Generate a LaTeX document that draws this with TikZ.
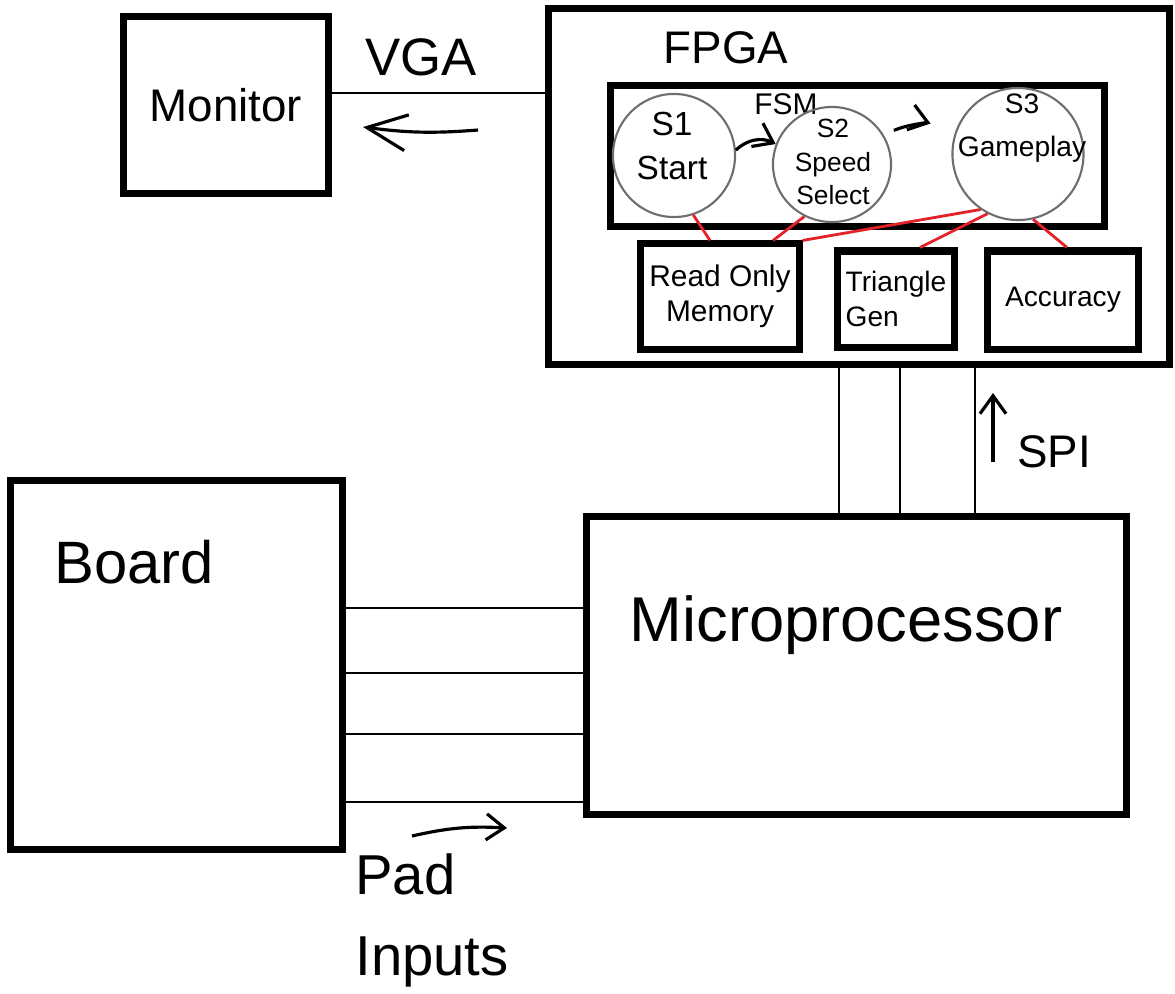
\documentclass[tikz,border=0pt]{standalone}
\usepackage{fontspec}
\setmainfont{Liberation Sans}
\usepackage{tikz}
\usetikzlibrary{arrows.meta,positioning,shapes.geometric}
\definecolor{clink}{HTML}{E32228}
\definecolor{cring}{HTML}{6E6E6E}
\tikzset{
  blk/.style={draw, rectangle, line width=2pt, inner sep=0pt, align=center},
  state/.style={draw=cring, ellipse, line width=0.6pt, inner sep=0pt},
  wire/.style={line width=0.6pt},
  link/.style={draw=clink, line width=0.8pt},
  hand/.style={-{Straight Barb[length=1.8mm,width=2.6mm]}, line width=0.9pt},
  handbig/.style={-{Straight Barb[length=4mm,width=3.6mm]}, line width=0.9pt},
  title/.style={font=\fontsize{13}{16}\selectfont},
  big/.style={font=\fontsize{17}{21}\selectfont},
  lbl/.style={font=\fontsize{8.5}{10}\selectfont, align=center},
}

\begin{document}
\begin{tikzpicture}[x=0.01cm,y=-0.01cm]
\useasboundingbox (0,0) rectangle (1175,993);
% monitor and fpga
\node[blk, title, minimum width=2.04cm, minimum height=1.76cm] (mon) at (226,105) {Monitor};
\node[blk, minimum width=6.20cm, minimum height=3.55cm] (fpga) at (859,186.5) {};
\node[title] (fpgalbl) at (726,48) {FPGA};
\node[title, font=\fontsize{15}{18}\selectfont] (vga) at (421,57) {VGA};
\draw[wire] ([yshift=1.2mm]mon.east) -- ([yshift=1.2mm]mon.east -| fpga.west);
\coordinate (vgaR) at (478,130); \coordinate (vgaL) at (363,127);
\draw[handbig] (vgaR) to[bend left=6] (vgaL);
% state machine
\node[blk, minimum width=4.93cm, minimum height=1.40cm] (fsm) at (857.5,156) {};
\node[lbl] (fsmlbl) at (786,104) {FSM};
\node[state, minimum width=1.22cm, minimum height=1.23cm] (s1) at (674,155.5) {};
\node[state, minimum width=1.18cm, minimum height=1.15cm] (s2) at (832,164.5) {};
\node[state, minimum width=1.31cm, minimum height=1.32cm] (s3) at (1018,154) {};
\node[lbl, font=\fontsize{9.5}{12.5}\selectfont] (s1t) at (672,146) {S1\\Start};
\node[lbl, font=\fontsize{7.5}{9.5}\selectfont] (s2t) at (833,162) {S2\\Speed\\Select};
\node[lbl, font=\fontsize{8}{12}\selectfont] (s3t) at (1022,128) {S3\\Gameplay};
\draw[hand] (s1.5) to[bend left=35] (s2.160);
\draw[hand, shorten <=1.1mm, shorten >=2.6mm] (s2.30) to[bend left=20] (s3.160);
% blocks under the fsm
\node[blk, lbl, minimum width=1.58cm, minimum height=1.05cm] (rom) at (720,296.5) {Read Only\\Memory};
\node[blk, lbl, align=left, font=\fontsize{8}{10}\selectfont, minimum width=1.16cm, minimum height=0.96cm] (tri) at (896,299) {Triangle\\Gen};
\node[blk, lbl, font=\fontsize{8}{10}\selectfont, minimum width=1.50cm, minimum height=0.98cm] (acc) at (1063,300) {Accuracy};
\draw[link] (s1.288) -- ([xshift=-1mm]rom.north);
\draw[link] (s2.242) -- ([xshift=5.3mm]rom.north);
\draw[link] (s3.236) -- (rom.north east);
\draw[link] (s3.243) -- ([xshift=2.4mm]tri.north);
\draw[link] (s3.283) -- ([xshift=0.4mm]acc.north);
% board and microprocessor
\node[blk, minimum width=3.31cm, minimum height=3.68cm] (board) at (176.5,665) {};
\node[big] (boardlbl) at (134,562) {Board};
\node[blk, minimum width=5.39cm, minimum height=2.97cm] (mp) at (856.5,665.5) {};
\node[big, font=\fontsize{18}{22}\selectfont] (mplbl) at (846,625) {Microprocessor};
\draw[wire] ([xshift=-2mm]fpga.south) -- ([xshift=-2mm]fpga.south |- mp.north);
\draw[wire] ([xshift=4.1mm]fpga.south) -- ([xshift=4.1mm]fpga.south |- mp.north);
\draw[wire] ([xshift=11.6mm]fpga.south) -- ([xshift=11.6mm]fpga.south |- mp.north);
\coordinate (spiB) at (993,462); \coordinate (spiT) at (993,393);
\draw[hand] (spiB) -- (spiT);
\node[title] (spi) at (1054,452) {SPI};
\draw[wire] ([yshift=5.7mm]board.east) -- ([yshift=5.7mm]board.east -| mp.west);
\draw[wire] ([yshift=-0.8mm]board.east) -- ([yshift=-0.8mm]board.east -| mp.west);
\draw[wire] ([yshift=-6.9mm]board.east) -- ([yshift=-6.9mm]board.east -| mp.west);
\draw[wire] ([yshift=-13.7mm]board.east) -- ([yshift=-13.7mm]board.east -| mp.west);
\node[align=left, font=\fontsize{16}{23}\selectfont] (pad) at (432,920) {Pad\\Inputs};
\coordinate (padA) at (412,836); \coordinate (padB) at (507,828);
\draw[hand] (padA) to[bend left=8] (padB);
\end{tikzpicture}
\end{document}
